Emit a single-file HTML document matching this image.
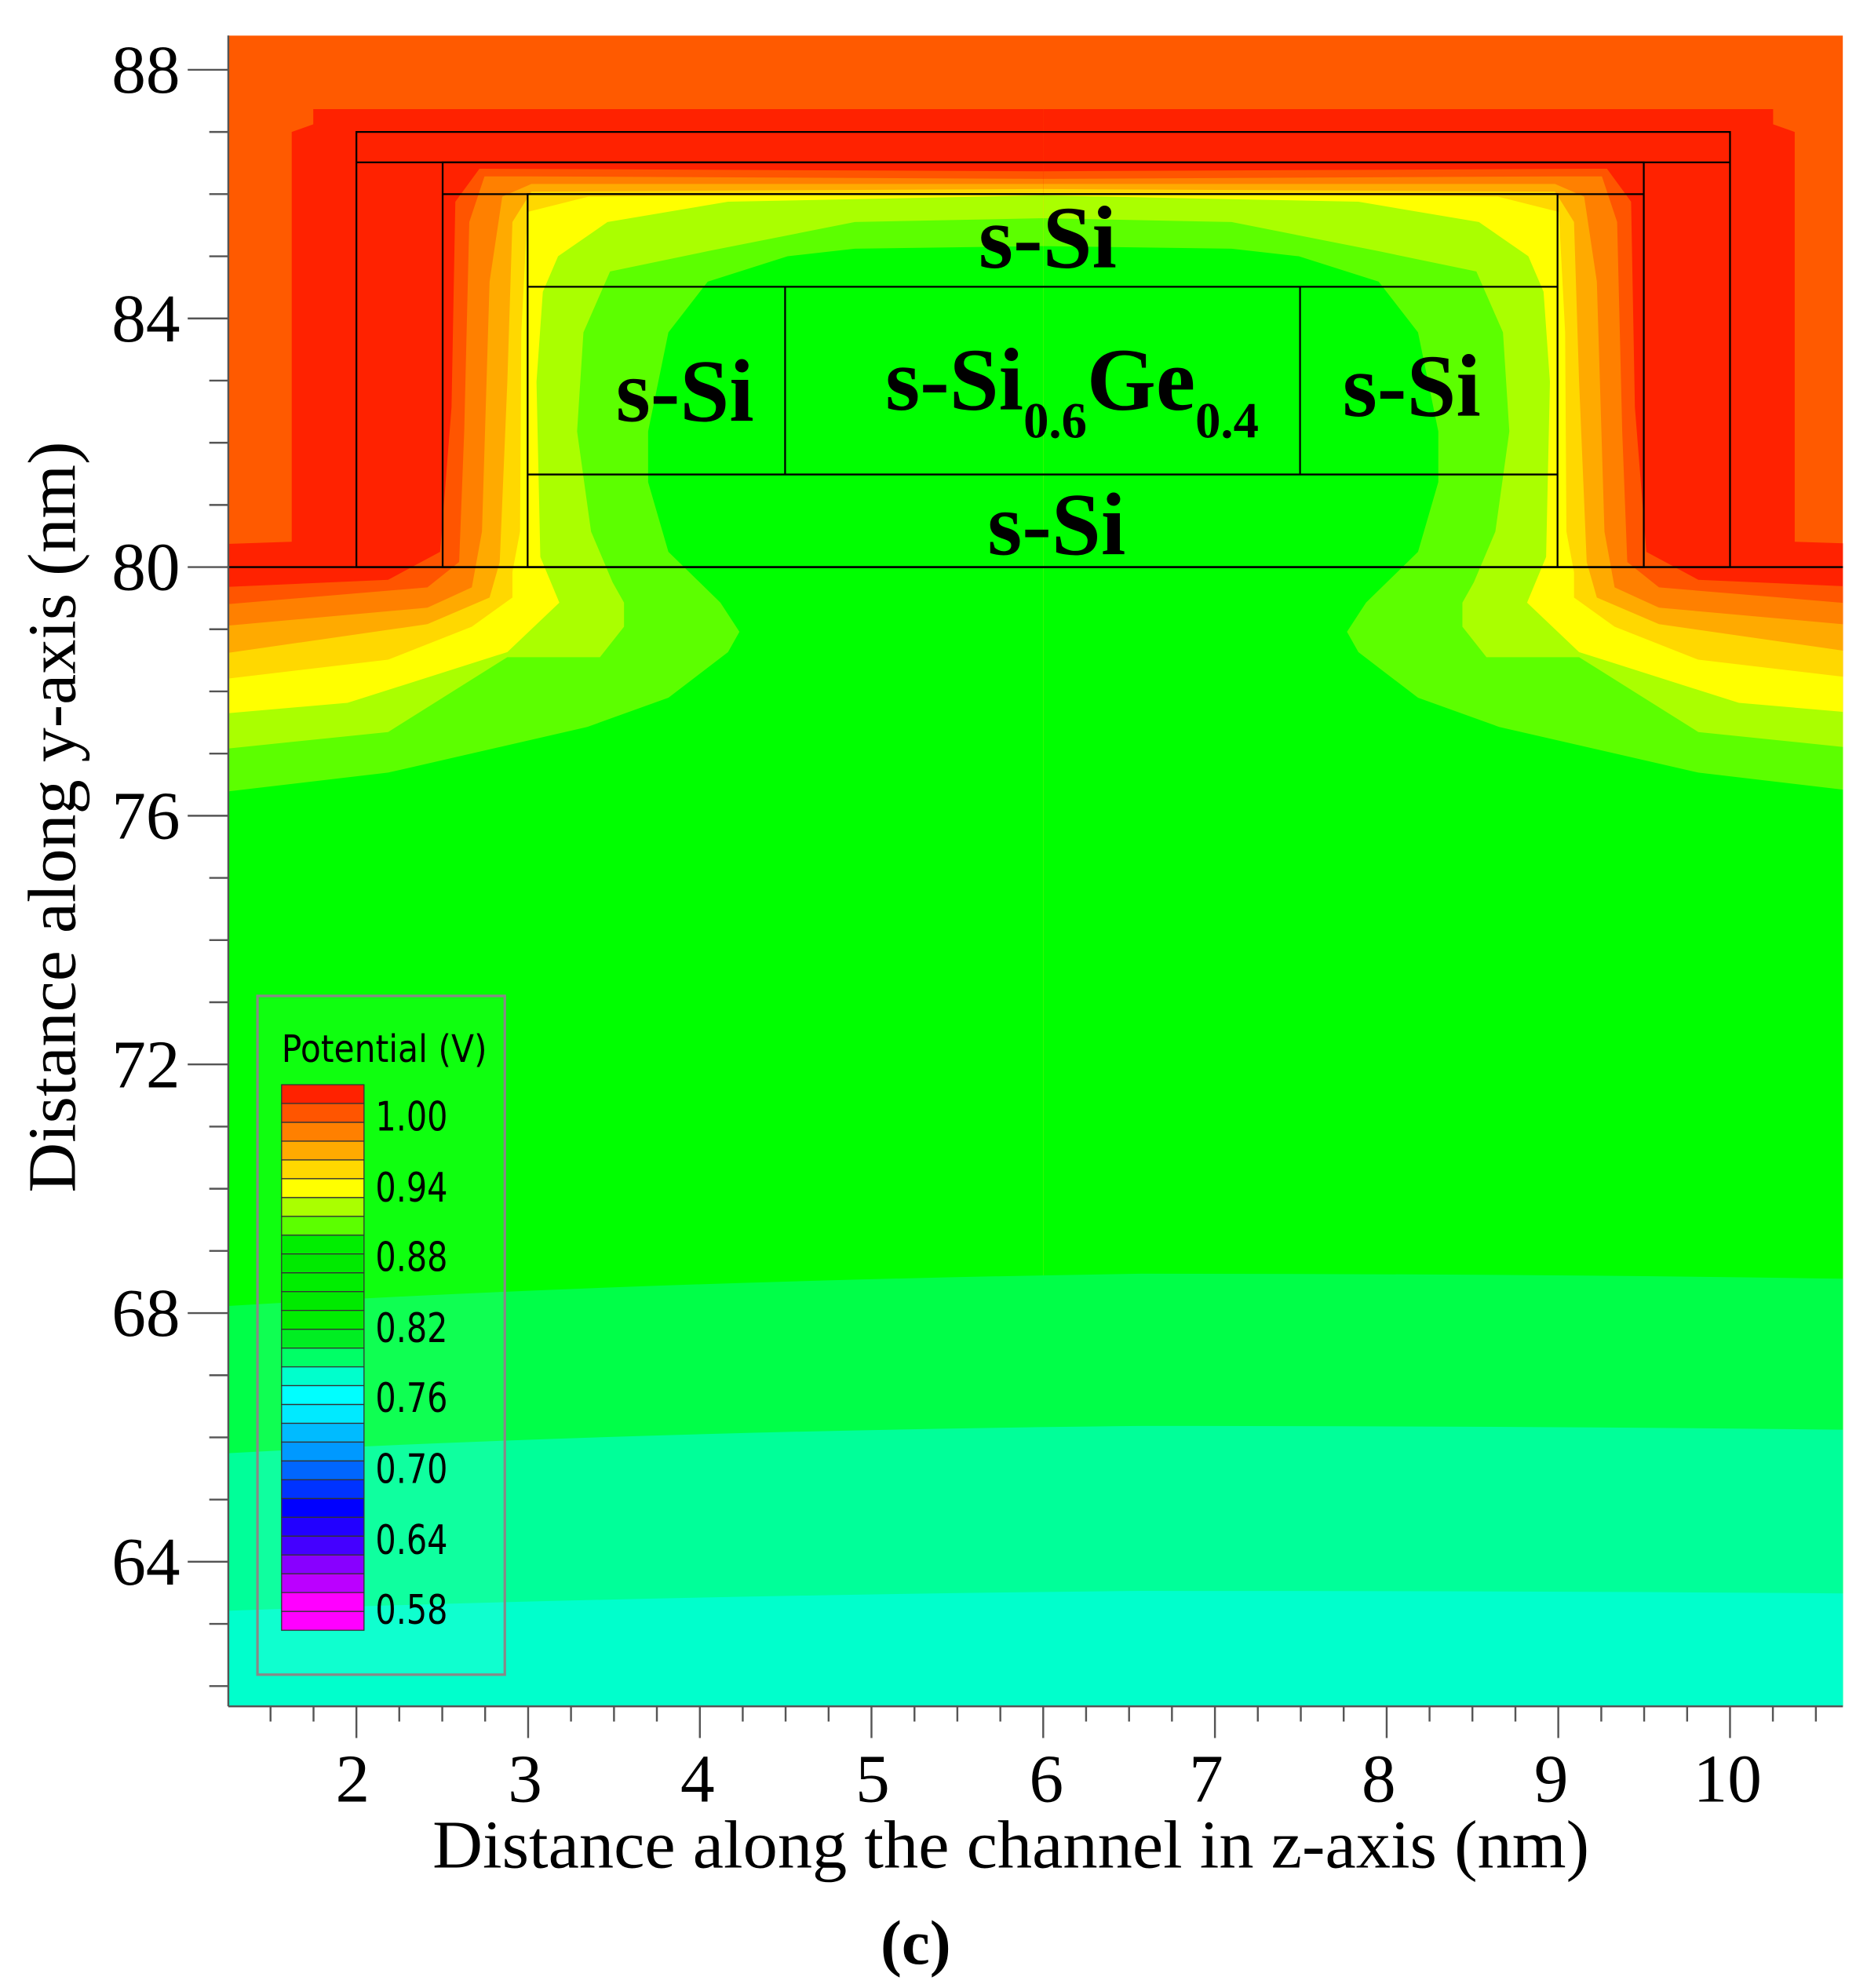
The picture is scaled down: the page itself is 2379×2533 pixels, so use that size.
<!DOCTYPE html>
<html><head><meta charset="utf-8"><style>
html,body{margin:0;padding:0;background:#fff;}
svg{display:block;}
</style></head><body>
<svg width="2379" height="2533" viewBox="0 0 1472 1567" preserveAspectRatio="none" xmlns="http://www.w3.org/2000/svg">
<defs>
<clipPath id="pc"><rect x="180" y="28" width="1273" height="1317"/></clipPath>
<g id="half">
<path fill="#ff2200" d="M170,429 L230,427 L230,104 L247,98 L247,86 L822.5,86 L822.5,1345 L170,1345Z"/>
<path fill="#ff5500" d="M170,463 L306,457 L347,435 L356,321 L359,159 L378,133 L822.5,135 L822.5,1345 L170,1345Z"/>
<path fill="#ff8000" d="M170,477 L337,463 L362,443 L366,340 L370,175 L382,139 L416,139 L822.5,141 L822.5,1345 L170,1345Z"/>
<path fill="#ffaa00" d="M170,494 L337,479 L372,463 L380,419 L386,222 L396,155 L419,145 L822.5,145 L822.5,1345 L170,1345Z"/>
<path fill="#ffd800" d="M170,516 L337,492 L386,471 L394,443 L400,301 L404,175 L419,151 L822.5,149 L822.5,1345 L170,1345Z"/>
<path fill="#ffff00" d="M170,536 L306,520 L372,494 L404,471 L404,451 L410,419 L411,262 L416,167 L464,155 L822.5,152 L822.5,1345 L170,1345Z"/>
<path fill="#aaff00" d="M170,563 L274,554 L400,514 L441,475 L426,439 L423,301 L428,230 L440,202 L479,175 L574,159 L822.5,154 L822.5,1345 L170,1345Z"/>
<path fill="#5cff00" d="M170,591 L306,577 L400,518 L473,518 L492,494 L492,475 L483,459 L466,419 L455,340 L460,262 L481,214 L558,198 L674,175 L822.5,172 L822.5,1345 L170,1345Z"/>
<path fill="#00ff00" d="M170,625 L306,609 L463,573 L527,550 L574,514 L583,498 L568,475 L527,435 L511,380 L511,340 L527,262 L558,222 L621,202 L674,196 L822.5,194 L822.5,1345 L170,1345Z"/>
</g>
</defs>
<g clip-path="url(#pc)">
<rect x="180" y="28" width="1273" height="1317" fill="#ff5a00"/>
<use href="#half"/>
<use href="#half" transform="translate(1645,0) scale(-1,1)"/>
<path fill="#00ff48" d="M170,1030 Q500,1010 900,1004 Q1200,1004 1460,1008 L1460,1345 L170,1345Z"/>
<path fill="#00ff99" d="M170,1146 Q500,1128 900,1124 Q1200,1124 1460,1127 L1460,1345 L170,1345Z"/>
<path fill="#00ffcc" d="M170,1270 Q500,1258 900,1254 Q1200,1254 1460,1256 L1460,1345 L170,1345Z"/>
</g>
<g stroke="#000" stroke-width="1.4" fill="none">
<rect x="281" y="104" width="1083" height="343"/>
<line x1="281" y1="128" x2="1364" y2="128"/>
<rect x="349" y="128" width="947" height="319"/>
<line x1="349" y1="153" x2="1296" y2="153"/>
<rect x="416" y="153" width="812" height="294"/>
<line x1="416" y1="226" x2="1228" y2="226"/>
<line x1="416" y1="374" x2="1228" y2="374"/>
<line x1="619" y1="226" x2="619" y2="374"/>
<line x1="1025" y1="226" x2="1025" y2="374"/>
<line x1="180" y1="447" x2="1453" y2="447"/>
</g>
<g font-family="Liberation Serif, serif" font-weight="bold" font-size="70" fill="#000">
<text x="826" y="211" text-anchor="middle">s-Si</text>
<text x="540" y="332" text-anchor="middle">s-Si</text>
<text x="1113" y="328" text-anchor="middle">s-Si</text>
<text x="833" y="437" text-anchor="middle">s-Si</text>
<text x="698" y="323">s-Si<tspan font-size="40" dy="22">0.6</tspan><tspan dy="-22">Ge</tspan><tspan font-size="40" dy="22">0.4</tspan></text>
</g>
<rect x="203" y="785" width="195" height="535" fill="#ffffff" fill-opacity="0.06" stroke="#888" stroke-width="2"/>
<text x="222" y="837" font-family="DejaVu Sans, Liberation Sans, sans-serif" font-size="30" fill="#000" textLength="162" lengthAdjust="spacingAndGlyphs">Potential (V)</text>
<g stroke="#333" stroke-width="0.8">
<rect x="222" y="855.0" width="65" height="14.83" fill="#ff2200"/>
<rect x="222" y="869.8" width="65" height="14.83" fill="#ff5500"/>
<rect x="222" y="884.7" width="65" height="14.83" fill="#ff8000"/>
<rect x="222" y="899.5" width="65" height="14.83" fill="#ffaa00"/>
<rect x="222" y="914.3" width="65" height="14.83" fill="#ffd800"/>
<rect x="222" y="929.1" width="65" height="14.83" fill="#ffff00"/>
<rect x="222" y="944.0" width="65" height="14.83" fill="#aaff00"/>
<rect x="222" y="958.8" width="65" height="14.83" fill="#5cff00"/>
<rect x="222" y="973.6" width="65" height="14.83" fill="#00ee00"/>
<rect x="222" y="988.4" width="65" height="14.83" fill="#00ea00"/>
<rect x="222" y="1003.3" width="65" height="14.83" fill="#00ee00"/>
<rect x="222" y="1018.1" width="65" height="14.83" fill="#00ea00"/>
<rect x="222" y="1032.9" width="65" height="14.83" fill="#00ee00"/>
<rect x="222" y="1047.8" width="65" height="14.83" fill="#00ee22"/>
<rect x="222" y="1062.6" width="65" height="14.83" fill="#00ff66"/>
<rect x="222" y="1077.4" width="65" height="14.83" fill="#00ffcc"/>
<rect x="222" y="1092.2" width="65" height="14.83" fill="#00ffff"/>
<rect x="222" y="1107.1" width="65" height="14.83" fill="#00eaff"/>
<rect x="222" y="1121.9" width="65" height="14.83" fill="#00bbff"/>
<rect x="222" y="1136.7" width="65" height="14.83" fill="#0099ff"/>
<rect x="222" y="1151.6" width="65" height="14.83" fill="#0066ff"/>
<rect x="222" y="1166.4" width="65" height="14.83" fill="#0033ff"/>
<rect x="222" y="1181.2" width="65" height="14.83" fill="#0000ff"/>
<rect x="222" y="1196.0" width="65" height="14.83" fill="#2200ff"/>
<rect x="222" y="1210.9" width="65" height="14.83" fill="#4400ff"/>
<rect x="222" y="1225.7" width="65" height="14.83" fill="#8800ff"/>
<rect x="222" y="1240.5" width="65" height="14.83" fill="#bb00ff"/>
<rect x="222" y="1255.3" width="65" height="14.83" fill="#ff00ff"/>
<rect x="222" y="1270.2" width="65" height="14.83" fill="#ff00ff"/>
</g>
<g font-family="DejaVu Sans, Liberation Sans, sans-serif" font-size="32" fill="#000" lengthAdjust="spacingAndGlyphs">
<text x="296" y="891" textLength="57" lengthAdjust="spacingAndGlyphs">1.00</text>
<text x="296" y="947" textLength="57" lengthAdjust="spacingAndGlyphs">0.94</text>
<text x="296" y="1002" textLength="57" lengthAdjust="spacingAndGlyphs">0.88</text>
<text x="296" y="1058" textLength="57" lengthAdjust="spacingAndGlyphs">0.82</text>
<text x="296" y="1113" textLength="57" lengthAdjust="spacingAndGlyphs">0.76</text>
<text x="296" y="1169" textLength="57" lengthAdjust="spacingAndGlyphs">0.70</text>
<text x="296" y="1225" textLength="57" lengthAdjust="spacingAndGlyphs">0.64</text>
<text x="296" y="1280" textLength="57" lengthAdjust="spacingAndGlyphs">0.58</text>
</g>
<g stroke="#555" stroke-width="1.5" fill="none">
<line x1="180" y1="28" x2="180" y2="1345"/>
<line x1="180" y1="1345" x2="1453" y2="1345"/>
<path d="M148,55H180M165,104H180M165,153H180M165,202H180M148,251H180M165,300H180M165,349H180M165,398H180M148,447H180M165,496H180M165,545H180M165,594H180M148,643H180M165,692H180M165,741H180M165,790H180M148,839H180M165,888H180M165,937H180M165,986H180M148,1035H180M165,1084H180M165,1133H180M165,1182H180M148,1231H180M165,1280H180M165,1329H180"/>
<path d="M213.3,1345V1357M247.2,1345V1357M281,1345V1370M314.8,1345V1357M348.7,1345V1357M382.5,1345V1357M416.4,1345V1370M450.2,1345V1357M484.1,1345V1357M517.9,1345V1357M551.8,1345V1370M585.6,1345V1357M619.4,1345V1357M653.3,1345V1357M687.1,1345V1370M721,1345V1357M754.8,1345V1357M788.7,1345V1357M822.5,1345V1370M856.3,1345V1357M890.2,1345V1357M924,1345V1357M957.9,1345V1370M991.7,1345V1357M1025.6,1345V1357M1059.4,1345V1357M1093.3,1345V1370M1127.1,1345V1357M1160.9,1345V1357M1194.8,1345V1357M1228.6,1345V1370M1262.5,1345V1357M1296.3,1345V1357M1330.2,1345V1357M1364,1345V1370M1397.8,1345V1357M1431.7,1345V1357"/>
</g>
<g font-family="Liberation Serif, serif" font-size="54" fill="#000">
<g text-anchor="end">
<text x="142" y="73">88</text>
<text x="142" y="269">84</text>
<text x="142" y="465">80</text>
<text x="142" y="661">76</text>
<text x="142" y="857">72</text>
<text x="142" y="1053">68</text>
<text x="142" y="1249">64</text>
</g>
<g text-anchor="middle">
<text x="278" y="1420">2</text>
<text x="414" y="1420">3</text>
<text x="550" y="1420">4</text>
<text x="688" y="1420">5</text>
<text x="825" y="1420">6</text>
<text x="951" y="1420">7</text>
<text x="1087" y="1420">8</text>
<text x="1223" y="1420">9</text>
<text x="1362" y="1420">10</text>
</g>
<text x="341" y="1472" font-size="54" textLength="912" lengthAdjust="spacingAndGlyphs">Distance along the channel in z-axis (nm)</text>
<text transform="translate(59,940) rotate(-90)" font-size="54" textLength="592" lengthAdjust="spacingAndGlyphs">Distance along y-axis (nm)</text>
<text x="722" y="1548" text-anchor="middle" font-weight="bold" font-size="50">(c)</text>
</g>
</svg>
</body></html>
